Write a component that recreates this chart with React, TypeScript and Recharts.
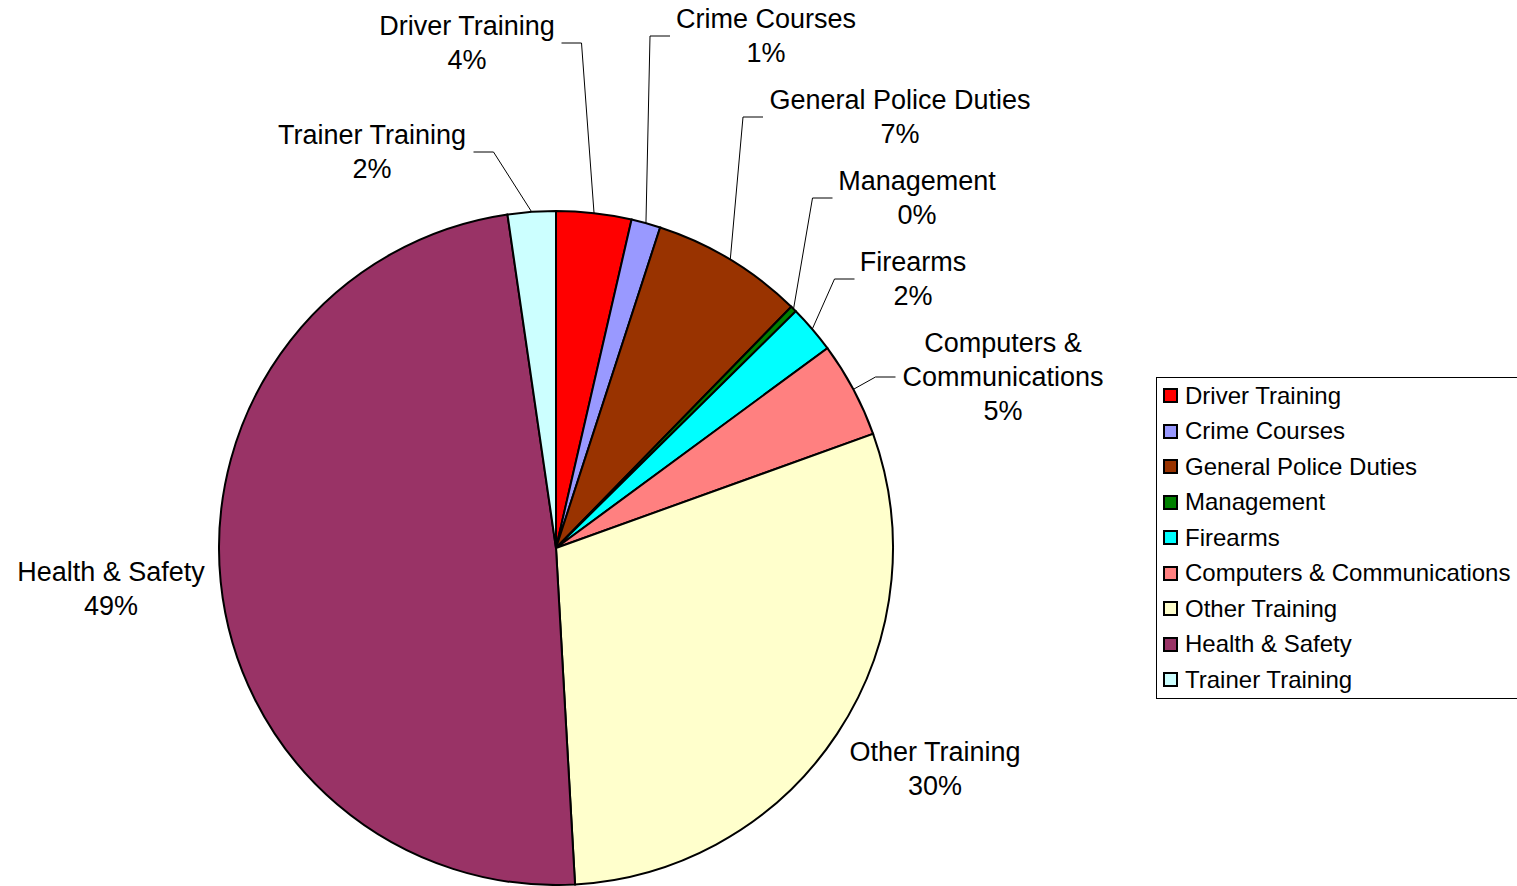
import { Cell, Legend, Pie, PieChart } from "recharts";

const categories = [
  "Driver Training",
  "Crime Courses",
  "General Police Duties",
  "Management",
  "Firearms",
  "Computers & Communications",
  "Other Training",
  "Health & Safety",
  "Trainer Training",
];
const shares = [3.6, 1.4, 7.3, 0.3, 2.3, 4.6, 29.6, 48.6, 2.3];
const colors = [
  "#FF0000",
  "#9999FF",
  "#993300",
  "#008000",
  "#00FFFF",
  "#FF8080",
  "#FFFFCC",
  "#993366",
  "#CCFFFF",
];

// where each data label sits, relative to the pie centre (hand-placed, like the original)
const labelSpots = [
  { dx: -89, dy: -505, w: 179, leader: true },
  { dx: 210, dy: -512, w: 182, leader: true },
  { dx: 344, dy: -431, w: 264, leader: true },
  { dx: 361, dy: -350, w: 159, leader: true },
  { dx: 357, dy: -269, w: 107, leader: true },
  { dx: 447, dy: -171, w: 205, leader: true, lines: ["Computers &", "Communications"] },
  { dx: 379, dy: 221, w: 174, leader: false },
  { dx: -445, dy: 41, w: 191, leader: false },
  { dx: -184, dy: -396, w: 193, leader: true },
];

const data = categories.map((name, i) => ({ name, value: shares[i] }));

const FONT = "'Liberation Sans', Arial, sans-serif";
const RAD = Math.PI / 180;

function renderLabel(props: any) {
  const { cx, cy, midAngle, outerRadius, percent, index, name } = props;
  const spot = labelSpots[index];
  const lx = cx + spot.dx;
  const ly = cy + spot.dy;
  const lines = [...(spot.lines ?? [name]), `${Math.round(percent * 100)}%`];

  let leader = null;
  if (spot.leader) {
    const sx = cx + outerRadius * Math.cos(-midAngle * RAD);
    const sy = cy + outerRadius * Math.sin(-midAngle * RAD);
    const textOnLeft = sx > lx;
    const bx = textOnLeft ? lx + spot.w / 2 + 5 : lx - spot.w / 2 - 5;
    const ax = textOnLeft ? bx + 20 : bx - 20;
    leader = (
      <polyline
        points={`${sx},${sy} ${ax},${ly} ${bx},${ly}`}
        fill="none"
        stroke="#000"
        strokeWidth={1}
      />
    );
  }

  return (
    <g key={`lbl-${index}`}>
      {leader}
      {lines.map((t, i) => (
        <text
          key={i}
          x={lx}
          y={ly + (i - (lines.length - 1) / 2) * 34}
          textAnchor="middle"
          dominantBaseline="central"
          fontFamily={FONT}
          fontSize={27}
          fill="#000"
        >
          {t}
        </text>
      ))}
    </g>
  );
}

function LegendBox({ payload }: any) {
  // keep the series order, not the alphabetical one
  const items = [...(payload ?? [])].sort(
    (a: any, b: any) => categories.indexOf(a.value) - categories.indexOf(b.value)
  );
  return (
    <div
      style={{
        border: "1px solid #000",
        background: "#fff",
        width: 372,
        padding: "0 0 0 6px",
        fontFamily: FONT,
        fontSize: 24,
        color: "#000",
        boxSizing: "border-box",
      }}
    >
      {items.map((item: any) => (
        <div
          key={item.value}
          style={{ display: "flex", alignItems: "center", height: 35.5, whiteSpace: "nowrap" }}
        >
          <span
            style={{
              display: "inline-block",
              width: 11,
              height: 11,
              border: "2px solid #000",
              background: item.color,
              marginRight: 7,
            }}
          />
          <span>{item.value}</span>
        </div>
      ))}
    </div>
  );
}

export default function App() {
  return (
    <div
      style={{
        position: "absolute",
        left: 0,
        top: 0,
        width: 1517,
        height: 886,
        overflow: "hidden",
        background: "#fff",
      }}
    >
      <PieChart width={1517} height={886} margin={{ top: 0, right: 0, bottom: 0, left: 0 }}>
        <Pie
          data={data}
          dataKey="value"
          nameKey="name"
          cx={556}
          cy={548}
          outerRadius={337}
          startAngle={90}
          endAngle={-270}
          stroke="#000"
          strokeWidth={2}
          label={renderLabel}
          labelLine={false}
          isAnimationActive={false}
        >
          {data.map((d, i) => (
            <Cell key={d.name} fill={colors[i]} />
          ))}
        </Pie>
        <Legend
          layout="vertical"
          align="right"
          verticalAlign="middle"
          content={<LegendBox />}
          wrapperStyle={{ position: "absolute", left: 1156, top: 377, width: 372 }}
        />
      </PieChart>
    </div>
  );
}
